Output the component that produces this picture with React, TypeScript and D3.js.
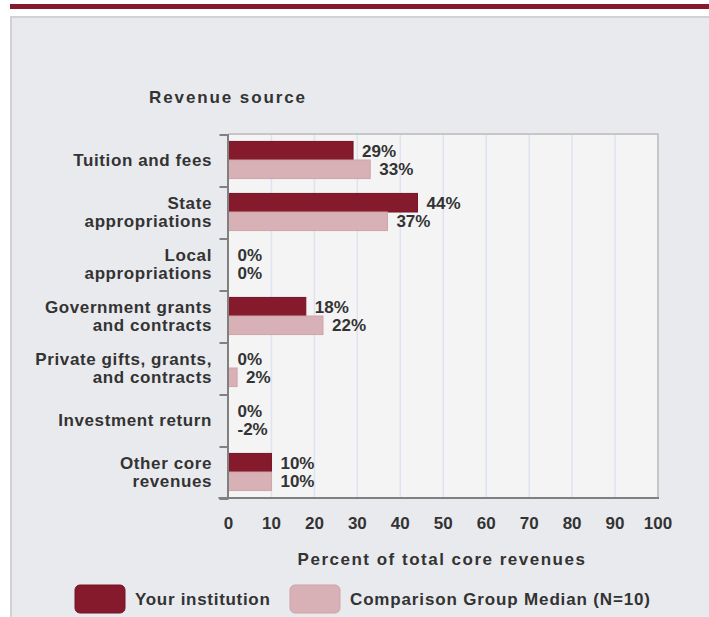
import React from "react";
import { scaleBand, scaleLinear } from "d3";

const categories = [
  ["Tuition and fees"],
  ["State", "appropriations"],
  ["Local", "appropriations"],
  ["Government grants", "and contracts"],
  ["Private gifts, grants,", "and contracts"],
  ["Investment return"],
  ["Other core", "revenues"],
];
const yourInstitution = [29, 44, 0, 18, 0, 0, 10];
const comparisonMedian = [33, 37, 0, 22, 2, -2, 10];
const xTicks = [0, 10, 20, 30, 40, 50, 60, 70, 80, 90, 100];
const seriesNames = ["Your institution", "Comparison Group Median (N=10)"];

const DARK = "#851a2c";
const LIGHT = "#d8b1b7";
const TEXT = "#333333";
const FONT = "'Liberation Sans', Arial, sans-serif";

export default function App() {
  const keys = categories.map((c) => c.join(" "));
  const x = scaleLinear().domain([0, 100]).range([228.5, 658]);
  const y = scaleBand().domain(keys).range([134, 498]);
  const inner = scaleBand<number>()
    .domain([0, 1])
    .range([0, y.bandwidth()])
    .paddingInner(0)
    .paddingOuter(0.4);
  const series = [yourInstitution, comparisonMedian];
  const colors = [DARK, LIGHT];
  const strokes = ["#741526", "#cfa3aa"];

  const top = y.range()[0];
  const bottom = y.range()[1];

  return (
    <svg
      width={709}
      height={617}
      style={{ position: "absolute", left: 0, top: 0, fontFamily: FONT }}
    >
      <rect x={0} y={0} width={709} height={617} fill="#ffffff" />
      <rect x={10} y={4} width={699} height={5} fill={DARK} />
      <rect x={10} y={16} width={699} height={601} fill="#e9eaee" />
      <line x1={10} x2={709} y1={17} y2={17} stroke="#d2d2d2" strokeWidth={2} />
      <line x1={11} x2={11} y1={16} y2={617} stroke="#d2d2d2" strokeWidth={2} />

      <text x={149} y={103} fontSize={17} fontWeight="bold" fill={TEXT} letterSpacing={1.9}>
        Revenue source
      </text>

      {/* plot area */}
      <rect x={x(0)} y={top} width={x(100) - x(0)} height={bottom - top} fill="#f4f4f5" />
      {xTicks.slice(1, -1).map((t) => (
        <line key={t} x1={x(t)} x2={x(t)} y1={top} y2={bottom} stroke="#dde3ef" strokeWidth={1.5} />
      ))}
      <line x1={x(0)} x2={x(100) + 1} y1={top} y2={top} stroke="#c6c6c6" strokeWidth={2} />
      <line x1={x(100)} x2={x(100)} y1={top} y2={bottom} stroke="#c6c6c6" strokeWidth={2} />

      {/* bars */}
      {keys.map((k, i) =>
        series.map((s, j) => {
          const v = s[i];
          const y0 = (y(k) ?? 0) + (inner(j) ?? 0);
          const h = inner.bandwidth();
          const w = Math.max(0, x(v) - x(0));
          const lx = x(Math.max(0, v)) + 9;
          return (
            <g key={`${k}-${j}`}>
              {w > 0 && (
                <rect x={x(0)} y={y0} width={w} height={h} fill={colors[j]} stroke={strokes[j]} strokeWidth={1} />
              )}
              <text x={lx} y={y0 + h / 2 + 6} fontSize={17} fontWeight="bold" fill={TEXT}>
                {`${v}%`}
              </text>
            </g>
          );
        })
      )}

      {/* axes */}
      <line x1={x(0) - 0.5} x2={x(0) - 0.5} y1={top} y2={bottom} stroke="#808080" strokeWidth={2} />
      {[...keys.map((k) => y(k) ?? 0), bottom].map((t, i) => (
        <line key={i} x1={x(0) - 9} x2={x(0)} y1={t + 1} y2={t + 1} stroke="#808080" strokeWidth={2} />
      ))}
      <line x1={x(0) - 10} x2={x(100) + 1} y1={bottom} y2={bottom} stroke="#808080" strokeWidth={2} />

      {xTicks.map((t) => (
        <text key={t} x={x(t)} y={529} textAnchor="middle" fontSize={17} fontWeight="bold" fill={TEXT}>
          {t}
        </text>
      ))}
      <text x={442} y={565} textAnchor="middle" fontSize={17} fontWeight="bold" fill={TEXT} letterSpacing={1.5}>
        Percent of total core revenues
      </text>

      {/* category labels */}
      {categories.map((lines, i) => {
        const cy = (y(keys[i]) ?? 0) + y.bandwidth() / 2;
        const start = lines.length === 1 ? cy + 6 : cy - 3;
        return (
          <text key={i} x={212} textAnchor="end" fontSize={17} fontWeight="bold" fill={TEXT} letterSpacing={0.6}>
            {lines.map((l, li) => (
              <tspan key={li} x={212} y={start + li * 18}>
                {l}
              </tspan>
            ))}
          </text>
        );
      })}

      {/* legend */}
      {seriesNames.map((name, j) => {
        const lx = [75, 290][j];
        return (
          <g key={name}>
            <rect x={lx} y={585} width={50} height={28} rx={5} fill={colors[j]} stroke={strokes[j]} />
            <text x={lx + 60} y={605} fontSize={17} fontWeight="bold" fill={TEXT} letterSpacing={j === 0 ? 0.7 : 0.85}>
              {name}
            </text>
          </g>
        );
      })}
    </svg>
  );
}
